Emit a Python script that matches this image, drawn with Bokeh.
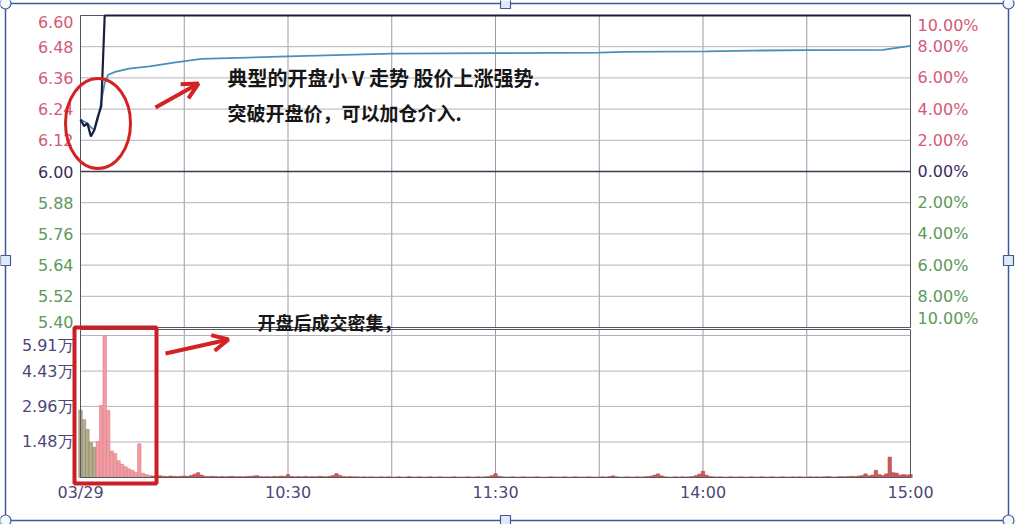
import numpy as np
from bokeh.plotting import figure
from bokeh.models import ColumnDataSource, Range1d, Arrow, OpenHead
from bokeh.core.properties import value, field
from bokeh.embed import file_html
from bokeh.resources import INLINE

# ---------------- data ----------------
prev_close = 6.00
price_ticks = [6.60, 6.48, 6.36, 6.24, 6.12, 6.00, 5.88, 5.76, 5.64, 5.52, 5.40]
price_labels = ["6.60", "6.48", "6.36", "6.24", "6.12", "6.00", "5.88", "5.76", "5.64", "5.52", "5.40"]
pct_labels = ["10.00%", "8.00%", "6.00%", "4.00%", "2.00%", "0.00%",
              "2.00%", "4.00%", "6.00%", "8.00%", "10.00%"]
time_ticks = [0, 60, 120, 180, 240]
time_labels = ["03/29", "10:30", "11:30", "14:00", "15:00"]
grid_minutes = [30, 60, 90, 120, 150, 180, 210]
vol_ticks = [1.48, 2.96, 4.43, 5.91]
vol_labels = ["1.48万", "2.96万", "4.43万", "5.91万"]

# price line (minute index -> price); limit-up 6.60 from minute 7 to the close
price_min = [0, 1, 2, 3, 4, 5, 6, 7, 240]
price_val = [6.20, 6.175, 6.185, 6.135, 6.16, 6.21, 6.25, 6.60, 6.60]

# average price line
avg_min = [0, 2, 3, 4, 5, 6, 7, 8, 10, 14, 20, 27, 35, 60, 90, 120, 150, 157, 181, 194, 210, 232, 237, 240]
avg_val = [6.20, 6.185, 6.17, 6.16, 6.20, 6.27, 6.34, 6.372, 6.383, 6.396, 6.404, 6.419, 6.433,
           6.443, 6.453, 6.455, 6.457, 6.46, 6.462, 6.465, 6.467, 6.468, 6.477, 6.483]

# volume (万) per minute 0..240
vol_open = [2.80, 2.40, 2.00, 1.45, 1.25, 1.50, 3.00, 5.91, 2.80, 1.10, 1.00, 0.70, 0.55, 0.45,
            0.36, 0.30, 0.22, 1.40, 0.18, 0.12, 0.08]
vol_morning = [0.06, 0.05, 0.07, 0.05, 0.04, 0.06, 0.05, 0.04, 0.05, 0.06,
               0.05, 0.08, 0.14, 0.20, 0.10, 0.05, 0.04, 0.05, 0.04, 0.03,
               0.04, 0.03, 0.04, 0.05, 0.03, 0.04, 0.03, 0.04, 0.05, 0.06,
               0.08, 0.04, 0.03, 0.04, 0.03, 0.05, 0.04, 0.06, 0.05, 0.12,
               0.04, 0.03, 0.04, 0.03, 0.05, 0.03, 0.04, 0.03, 0.05, 0.04,
               0.03, 0.05, 0.08, 0.16, 0.09, 0.04, 0.03, 0.04, 0.03, 0.03,
               0.02, 0.03, 0.02, 0.03, 0.02, 0.02, 0.03, 0.02, 0.03, 0.02,
               0.02, 0.03, 0.02, 0.02, 0.04, 0.02, 0.02, 0.03, 0.02, 0.02,
               0.03, 0.02, 0.02, 0.03, 0.02, 0.02, 0.02, 0.03, 0.02, 0.02,
               0.02, 0.03, 0.02, 0.02, 0.03, 0.02, 0.03, 0.04, 0.08, 0.16]
vol_afternoon = [0.05, 0.03, 0.02, 0.02, 0.03, 0.02, 0.02, 0.03, 0.02, 0.02,
                 0.02, 0.03, 0.02, 0.02, 0.02, 0.03, 0.02, 0.02, 0.02, 0.03,
                 0.02, 0.02, 0.03, 0.02, 0.02, 0.02, 0.03, 0.02, 0.02, 0.02,
                 0.03, 0.02, 0.04, 0.07, 0.03, 0.02, 0.02, 0.03, 0.02, 0.02,
                 0.03, 0.02, 0.03, 0.04, 0.06, 0.10, 0.15, 0.07, 0.03, 0.02,
                 0.02, 0.03, 0.02, 0.03, 0.02, 0.03, 0.04, 0.08, 0.14, 0.26,
                 0.10, 0.04, 0.03, 0.02, 0.03, 0.02, 0.02, 0.03, 0.02, 0.02,
                 0.03, 0.02, 0.02, 0.03, 0.02, 0.02, 0.03, 0.02, 0.02, 0.03,
                 0.02, 0.02, 0.03, 0.02, 0.02, 0.03, 0.02, 0.03, 0.02, 0.02,
                 0.03, 0.02, 0.03, 0.02, 0.03, 0.04, 0.03, 0.02, 0.03, 0.04,
                 0.03, 0.04, 0.05, 0.04, 0.06, 0.08, 0.15, 0.07, 0.10, 0.30,
                 0.12, 0.08, 0.15, 0.85, 0.20, 0.18, 0.10, 0.12, 0.10, 0.12]
down_bars = 5  # opening minutes with falling price (green-ish bars)

note1 = "典型的开盘小 V 走势  股价上涨强势."
note2 = "突破开盘价，可以加仓介入."
note3 = "开盘后成交密集，"

# ---------------- layout (canvas pixels) ----------------
W, H = 1018, 524
X0, X1 = 80, 910            # minute 0 / minute 240
PY_TOP, PY_BOT = 15, 327    # price panel top / bottom
VY_TOP, VY_BOT = 329, 477   # volume panel top / bottom
P_MIN, P_MAX = 5.40, 6.60
V_MAX = 6.16

ppm = (X1 - X0) / 240.0
ppp = (PY_BOT - PY_TOP) / (P_MAX - P_MIN)
ppv = (VY_BOT - VY_TOP) / V_MAX


def sx(px):
    return (px - X0) / ppm


def sp(py):
    return P_MAX - (py - PY_TOP) / ppp


def sv(py):
    return (VY_BOT - py) / ppv


RED = "#d42222"
UP_C, FLAT_C, DOWN_C = "#d45a76", "#3a2c5c", "#5a9a58"
AX_C = "#4e4678"
GRID_H = "#b2b2bc"
GRID_V = "#9a9aa8"
FRAME_C = "#55555f"
EDIT_C = "#3a5a9a"
FONT_NUM = "DejaVu Sans"
FONT_CJK = "Noto Sans CJK SC"

p = figure(width=W, height=H, x_range=Range1d(sx(0), sx(W)), y_range=Range1d(sp(H), sp(0)),
           x_axis_location=None, y_axis_location=None,
           output_backend="svg", toolbar_location=None,
           min_border=0, min_border_left=0, min_border_right=0,
           min_border_top=0, min_border_bottom=0)
p.extra_y_ranges = {"vol": Range1d(sv(H), sv(0))}
p.grid.visible = False
p.outline_line_color = None
p.background_fill_color = "#ffffff"
p.border_fill_color = "#ffffff"

# ---------- price panel ----------
n_g = len(grid_minutes)
p.segment(x0=grid_minutes, y0=[P_MIN] * n_g, x1=grid_minutes, y1=[P_MAX] * n_g,
          line_color=GRID_V, line_width=1)
p.segment(x0=0, y0=price_ticks, x1=240, y1=price_ticks, line_color=GRID_H, line_width=1)
p.segment(x0=0, y0=prev_close, x1=240, y1=prev_close, line_color="#3c3c4c", line_width=1.6)
p.quad(left=0, right=240, bottom=P_MIN, top=P_MAX, fill_color=None,
       line_color=FRAME_C, line_width=1)

p.line(avg_min, avg_val, line_color="#4a8fba", line_width=1.8)
p.line(price_min, price_val, line_color="#1c1c3e", line_width=2.2)

tick_colors = [UP_C if t > prev_close else (FLAT_C if t == prev_close else DOWN_C) for t in price_ticks]
tick_base = ["top"] + ["middle"] * (len(price_ticks) - 2) + ["bottom"]
tsrc = ColumnDataSource(dict(y=price_ticks, left=price_labels, right=pct_labels,
                             color=tick_colors, base=tick_base))
p.text(x=0, y="y", text="left", source=tsrc, x_offset=-7, text_align="right",
       text_baseline=field("base"), text_color=field("color"),
       text_font=value(FONT_NUM), text_font_size=value("16px"))
p.text(x=240, y="y", text="right", source=tsrc, x_offset=7, text_align="left",
       text_baseline=field("base"), text_color=field("color"),
       text_font=value(FONT_NUM), text_font_size=value("16px"))

# ---------- volume panel ----------
vol = vol_open + vol_morning + vol_afternoon
mins = list(range(len(vol)))
fill_c = ["#b3ad8c" if i < down_bars else ("#f09ca2" if i < len(vol_open) else "#cc5a5a") for i in mins]
line_c = ["#8c8466" if i < down_bars else ("#e08088" if i < len(vol_open) else "#c04848") for i in mins]
vsrc = ColumnDataSource(dict(t=mins, v=vol, fc=fill_c, lc=line_c))

p.segment(x0=grid_minutes, y0=[0] * n_g, x1=grid_minutes, y1=[V_MAX] * n_g,
          line_color=GRID_V, line_width=1, y_range_name="vol")
p.segment(x0=0, y0=vol_ticks, x1=240, y1=vol_ticks, line_color=GRID_H, line_width=1,
          y_range_name="vol")
p.vbar(x="t", top="v", bottom=0, width=1.0, source=vsrc, fill_color="fc", line_color="lc",
       line_width=0.6, y_range_name="vol")
p.quad(left=0, right=240, bottom=0, top=V_MAX, fill_color=None,
       line_color=FRAME_C, line_width=1, y_range_name="vol")

vol_base = ["middle"] * (len(vol_ticks) - 1) + ["top"]
p.text(x=0, y=vol_ticks, text=vol_labels, x_offset=-7, text_align="right",
       text_baseline=vol_base, text_color=AX_C, text_font=value(FONT_NUM),
       text_font_size=value("16px"), y_range_name="vol")
p.text(x=time_ticks, y=sv(VY_BOT + 5), text=time_labels, text_align="center",
       text_baseline="top", text_color=AX_C, text_font=value(FONT_NUM),
       text_font_size=value("16px"), y_range_name="vol")

# ---------- red annotations ----------
p.ellipse(x=sx(97.5), y=sp(123), width=65, height=90, width_units="screen",
          height_units="screen", fill_color=None, line_color=RED, line_width=3)
p.add_layout(Arrow(x_start=sx(155), y_start=sp(107), x_end=sx(198), y_end=sp(83),
                   line_color=RED, line_width=4,
                   end=OpenHead(size=16, line_color=RED, line_width=4)))
p.quad(left=sx(74), right=sx(156), bottom=sv(483), top=sv(327), fill_color=None,
       line_color="#cc1f25", line_width=4, y_range_name="vol")
p.add_layout(Arrow(x_start=sx(165), y_start=sv(353), x_end=sx(228), y_end=sv(339),
                   line_color=RED, line_width=4, y_range_name="vol",
                   end=OpenHead(size=16, line_color=RED, line_width=4)))

for txt, px_, py_, fs in [(note1, 227, 77, "20px"), (note2, 227, 112, "19px"), (note3, 257, 321, "18px")]:
    p.text(x=sx(px_), y=sp(py_), text=[txt], text_font=value(FONT_CJK),
           text_font_size=value(fs), text_font_style="bold", text_color="#161616",
           text_baseline="middle", text_align="left")

# ---------- editor selection frame around the picture ----------
p.quad(left=sx(5), right=sx(1008), bottom=sp(520), top=sp(3), fill_color=None,
       line_color=EDIT_C, line_width=1.5)
p.scatter(x=[sx(5), sx(1008), sx(5), sx(1008)], y=[sp(3), sp(3), sp(520), sp(520)],
          marker="circle", size=11, fill_color="#f4f8fc", line_color=EDIT_C, line_width=1.2)
p.scatter(x=[sx(505), sx(5), sx(1008), sx(505)], y=[sp(3), sp(260), sp(260), sp(520)],
          marker="square", size=10, fill_color="#dfeaf6", line_color=EDIT_C, line_width=1.2)

open("out.html", "w").write(file_html(p, INLINE))
